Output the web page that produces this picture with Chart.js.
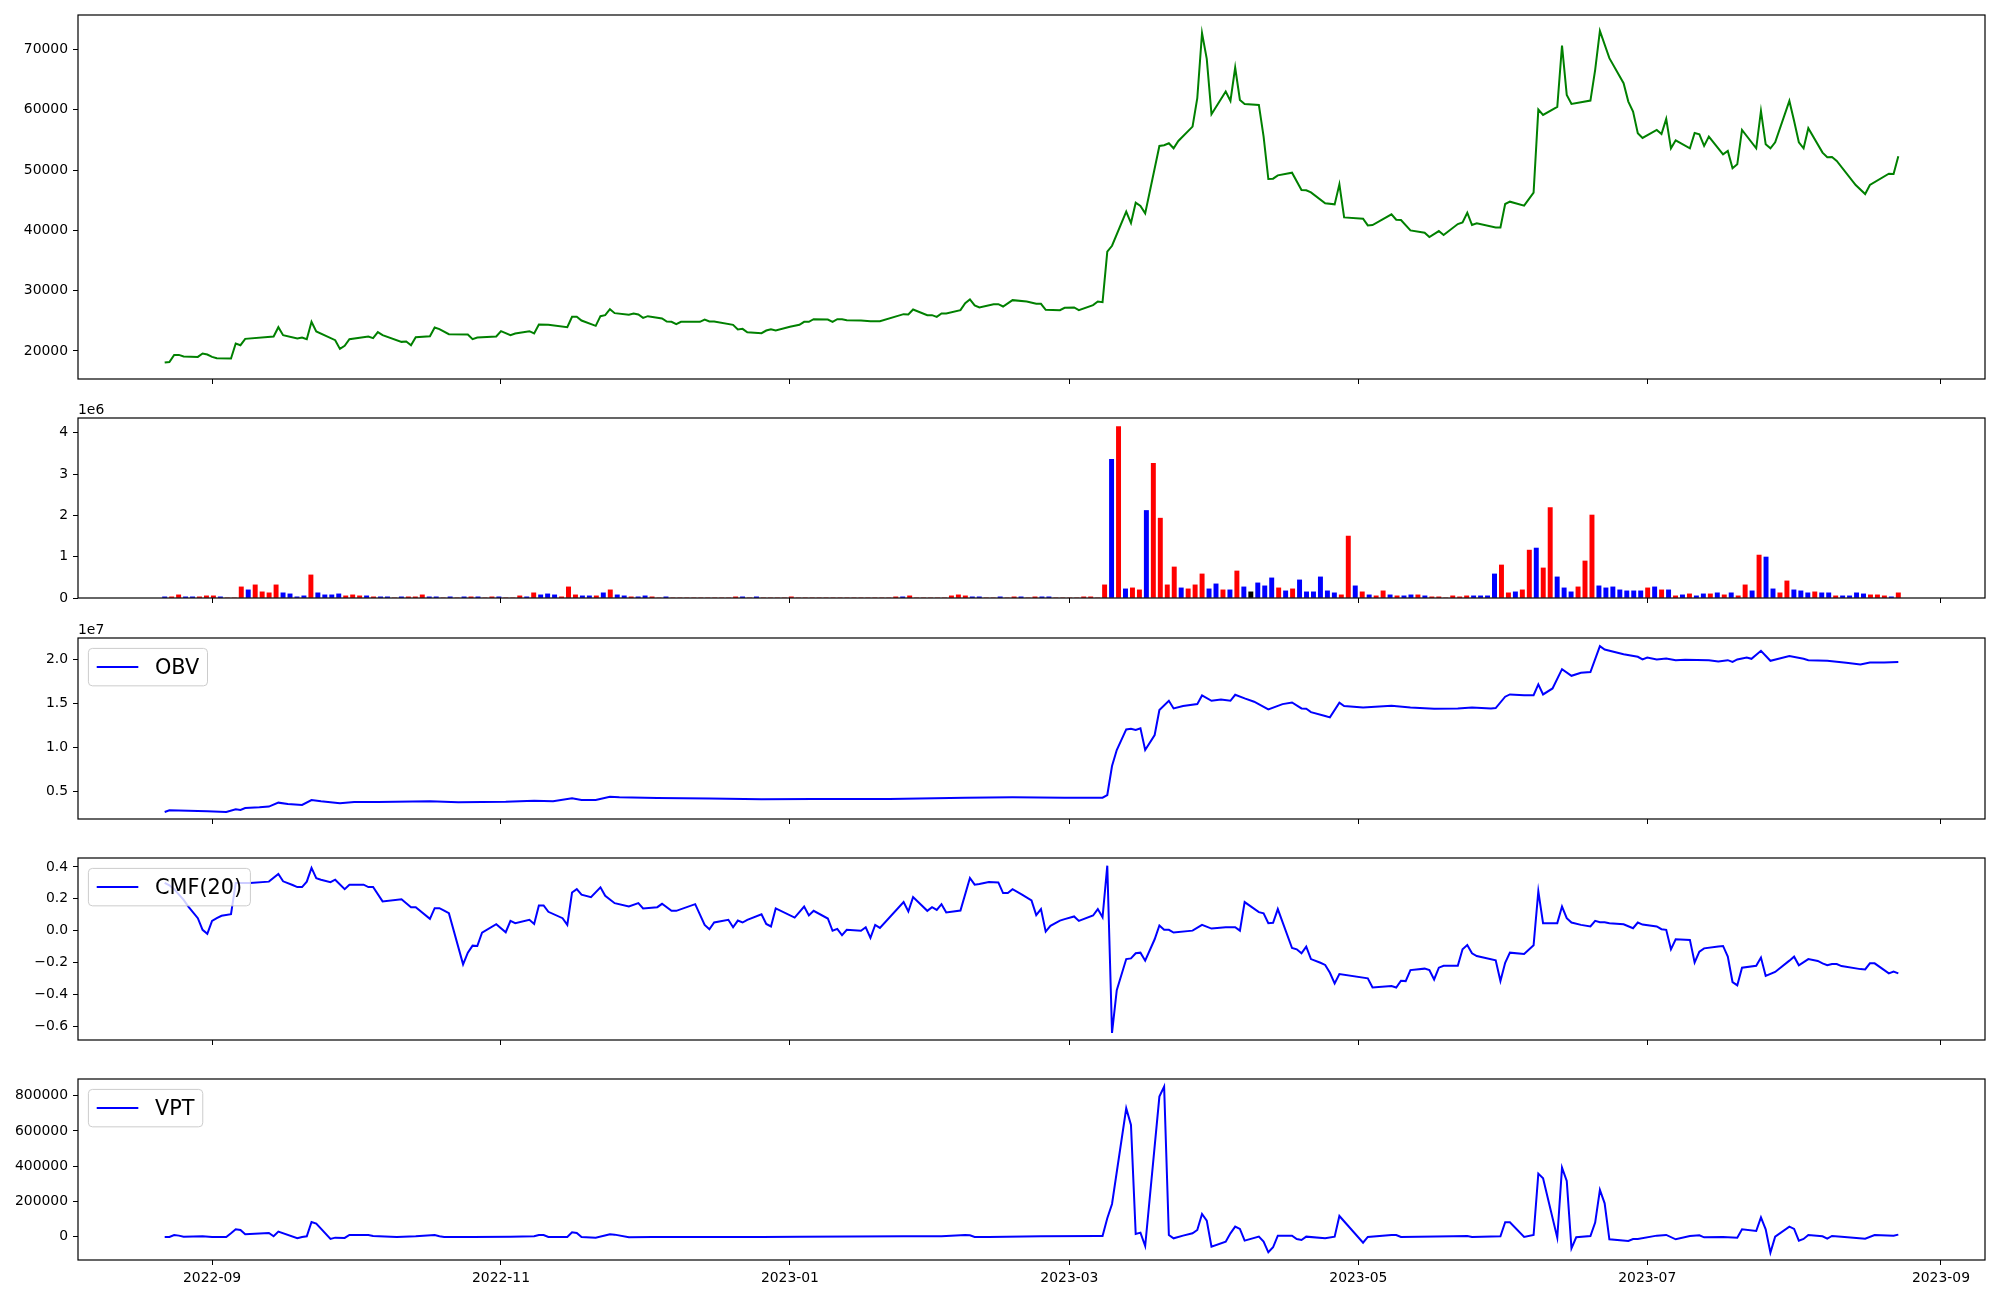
<!DOCTYPE html>
<html><head><meta charset="utf-8">
<script src="https://cdn.jsdelivr.net/npm/chart.js@4.4.1/dist/chart.umd.min.js"></script>
<style>
html,body{margin:0;padding:0;background:#fff;}
#wrap{position:relative;width:2000px;height:1300px;overflow:hidden;background:#fff;}
.panel{position:absolute;left:0;width:2000px;}
canvas{display:block;}
</style></head><body><div id="wrap">
<div class="panel" style="top:0px;height:400px"><canvas id="c1"></canvas></div>
<div class="panel" style="top:380px;height:240px"><canvas id="c2"></canvas></div>
<div class="panel" style="top:600px;height:240px"><canvas id="c3"></canvas></div>
<div class="panel" style="top:820px;height:240px"><canvas id="c4"></canvas></div>
<div class="panel" style="top:1040px;height:260px"><canvas id="c5"></canvas></div>
</div>
<script>
// ---------- DATA (x = days since 2022-09-01) ----------
const xTickLabels = ['2022-09','2022-11','2023-01','2023-03','2023-05','2023-07','2023-09'];

const closePrice = [[-10,18070],[-9,18170],[-8,19340],[-7,19340],[-6,19065],[-3,19010],[-2,19564],[-1,19398],[0,19010],[1,18790],[4,18733],[5,21224],[6,20948],[7,22000],[13,22388],[14,23938],[15,22609],[18,22055],[19,22221],[20,21944],[21,24824],[22,23218],[26,21779],[27,20339],[28,20838],[29,21944],[33,22388],[34,22111],[35,23107],[36,22609],[40,21501],[41,21557],[42,20948],[43,22277],[46,22443],[47,23883],[48,23606],[50,22775],[54,22720],[55,21944],[56,22221],[60,22388],[61,23274],[63,22609],[64,22886],[67,23274],[68,22886],[69,24381],[71,24326],[75,23938],[76,25654],[77,25654],[78,25045],[81,24159],[82,25765],[83,25931],[84,26928],[85,26263],[88,25987],[89,26208],[90,26042],[91,25488],[92,25765],[95,25377],[96,24879],[97,24824],[98,24436],[99,24824],[103,24824],[104,25211],[105,24879],[106,24879],[110,24326],[111,23551],[112,23661],[113,23080],[116,22941],[117,23384],[118,23606],[119,23384],[122,23993],[124,24326],[125,24824],[126,24824],[127,25267],[130,25211],[131,24824],[132,25267],[133,25267],[134,25101],[137,25045],[139,24935],[141,24935],[146,26097],[147,26042],[148,26872],[151,25931],[152,25931],[153,25654],[154,26208],[155,26208],[158,26761],[159,27924],[160,28533],[161,27536],[162,27204],[165,27757],[166,27757],[167,27370],[169,28422],[172,28200],[174,27812],[175,27812],[176,26817],[179,26761],[180,27149],[182,27204],[183,26761],[186,27593],[187,28200],[188,28090],[189,36451],[190,37448],[193,43096],[194,41213],[195,44590],[196,44037],[197,42819],[200,54004],[201,54114],[202,54446],[203,53616],[204,54834],[207,57215],[208,61922],[209,72718],[210,68455],[211,59264],[214,63029],[215,61478],[216,67015],[217,61644],[218,60980],[221,60814],[222,55554],[223,48522],[224,48577],[225,49131],[228,49574],[230,46695],[231,46640],[232,46307],[235,44480],[237,44314],[238,47636],[239,42155],[243,41933],[244,40826],[245,40881],[249,42653],[250,41767],[251,41712],[253,39995],[256,39608],[257,38888],[259,39885],[260,39220],[263,41047],[264,41324],[265,42930],[266,40881],[267,41158],[271,40493],[272,40493],[273,44369],[274,44757],[277,44093],[279,46252],[280,60039],[281,59153],[284,60482],[285,70670],[286,62475],[287,60980],[291,61534],[292,66628],[293,73106],[295,68566],[298,64413],[299,61368],[300,59707],[301,56108],[302,55332],[305,56661],[306,55997],[307,58489],[308,53616],[309,54945],[312,53616],[313,56163],[314,55942],[315,54004],[316,55554],[319,52620],[320,53173],[321,50294],[322,50958],[323,56661],[326,53616],[327,59817],[328,54281],[329,53616],[330,54612],[333,61478],[334,58157],[335,54612],[336,53616],[337,56938],[340,52897],[341,52121],[342,52176],[343,51512],[347,47525],[349,46030],[350,47525],[354,49407],[355,49352],[356,52288]];

// one bar per trading session, sessions evenly spaced from first to last day
const volumeFirstDay = -10, volumeLastDay = 356;
const volume = [
28000,28000,76000,28000,28000,28000,52000,52000,28000,0,
0,269000,197000,318000,149000,125000,318000,125000,100000,28000,
52000,559000,125000,76000,76000,100000,52000,76000,52000,52000,
28000,28000,28000,0,28000,28000,28000,76000,28000,28000,
0,28000,0,28000,28000,28000,0,28000,28000,0,
0,52000,28000,125000,76000,100000,76000,28000,269000,76000,
52000,52000,52000,125000,197000,76000,52000,28000,28000,52000,
28000,0,28000,0,0,0,0,0,0,0,
0,0,28000,28000,0,28000,0,0,0,0,
28000,0,0,0,0,0,0,0,0,0,
0,0,0,0,0,28000,28000,52000,0,0,
0,0,0,52000,76000,52000,28000,28000,0,0,
28000,0,28000,28000,0,28000,28000,28000,0,0,
0,0,28000,28000,0,318000,3360000,4150000,221000,245000,
197000,2120000,3260000,1934000,318000,752000,245000,221000,318000,583000,
221000,342000,197000,197000,655000,269000,149000,366000,294000,487000,
245000,173000,221000,438000,149000,149000,511000,173000,125000,76000,
1500000,294000,149000,76000,52000,173000,76000,52000,52000,76000,
76000,52000,28000,28000,0,52000,28000,52000,52000,52000,
52000,583000,800000,125000,149000,197000,1160000,1210000,728000,2190000,
511000,245000,149000,269000,897000,2010000,294000,245000,269000,197000,
173000,173000,173000,245000,269000,197000,197000,52000,76000,100000,
52000,100000,100000,125000,76000,125000,52000,318000,173000,1040000,
993000,221000,125000,414000,197000,173000,125000,149000,125000,125000,
52000,52000,52000,125000,100000,76000,76000,52000,28000,125000];
// U = close up, D = close down, F = unchanged
const volumeDirection = ('DUUDDUUUDU'+'UUDUUUUDDD'+'DUDDDDUUUD'+'UDDUDUUUDD'+'UDUDUDUUDU'+
 'UUDUDDDUUU'+'DDUDUDDUDD'+'UUDUUUUUUU'+'UUUDUDUUUU'+'UUUUUUUUUU'+
 'UUUUUUDUUU'+'UUUUUUDDUU'+'DUUDUUDDUU'+'UUUUUUDUDU'+'UDUUUUDUUU'+
 'DDUDUDFDDD'+'UDUDDDDDDU'+'UDUDUUDUDD'+'UDUUUUUUDD'+'DDUUDUUDUU'+
 'DDDUUUDDDD'+'DDDUDUDUDU'+'DDUDUDUUDU'+'DDUUDDDUDD'+'UDDDDUUUDU').split('');

const obv = [[-10,2650000],[-9,2840000],[-5,2800000],[-1,2730000],[3,2650000],[5,2950000],[6,2880000],[7,3100000],[10,3180000],[12,3260000],[14,3710000],[16,3560000],[19,3450000],[21,4010000],[23,3860000],[27,3630000],[30,3790000],[35,3790000],[46,3860000],[52,3750000],[62,3820000],[68,3940000],[72,3860000],[76,4200000],[78,4010000],[81,4010000],[84,4390000],[86,4320000],[94,4240000],[105,4170000],[116,4090000],[127,4130000],[143,4130000],[159,4280000],[169,4320000],[180,4280000],[188,4280000],[189,4580000],[190,7880000],[191,9700000],[193,12040000],[194,12120000],[195,11970000],[196,12160000],[197,9700000],[199,11400000],[200,14240000],[202,15300000],[203,14430000],[205,14700000],[208,14920000],[209,15910000],[211,15300000],[213,15450000],[215,15300000],[216,15980000],[218,15570000],[220,15190000],[223,14320000],[226,14920000],[228,15110000],[230,14430000],[231,14390000],[232,14010000],[235,13560000],[236,13410000],[238,15080000],[239,14700000],[243,14540000],[249,14730000],[253,14540000],[258,14390000],[263,14430000],[266,14540000],[270,14430000],[271,14470000],[273,15760000],[274,16020000],[277,15940000],[279,15940000],[280,17160000],[281,16020000],[283,16700000],[285,18900000],[287,18140000],[289,18480000],[291,18560000],[293,21510000],[294,21130000],[298,20600000],[301,20300000],[302,20000000],[303,20220000],[305,20000000],[307,20110000],[309,19920000],[311,19960000],[316,19920000],[318,19770000],[320,19920000],[321,19730000],[322,20000000],[324,20220000],[325,20070000],[327,20980000],[329,19850000],[333,20380000],[336,20070000],[337,19920000],[341,19850000],[345,19620000],[348,19430000],[350,19660000],[353,19660000],[356,19700000]];

const cmf20 = [[-10,0.30],[-9,0.285],[-8,0.261],[-6,0.194],[-5,0.152],[-3,0.079],[-2,0.006],[-1,-0.019],[0,0.062],[1,0.079],[2,0.094],[4,0.104],[5,0.299],[6,0.299],[8,0.299],[12,0.308],[14,0.356],[15,0.310],[17,0.287],[18,0.274],[19,0.274],[20,0.308],[21,0.394],[22,0.329],[23,0.320],[25,0.305],[26,0.320],[28,0.261],[29,0.289],[32,0.289],[33,0.274],[34,0.274],[36,0.184],[40,0.198],[42,0.148],[43,0.148],[46,0.075],[47,0.142],[48,0.142],[49,0.127],[50,0.110],[53,-0.210],[54,-0.137],[55,-0.093],[56,-0.095],[57,-0.011],[60,0.041],[62,-0.009],[63,0.062],[64,0.048],[67,0.069],[68,0.043],[69,0.159],[70,0.159],[71,0.119],[74,0.079],[75,0.037],[76,0.240],[77,0.261],[78,0.226],[80,0.211],[82,0.272],[83,0.219],[85,0.173],[88,0.152],[90,0.173],[91,0.140],[94,0.148],[95,0.169],[97,0.125],[98,0.125],[102,0.167],[104,0.037],[105,0.010],[106,0.052],[109,0.069],[110,0.022],[111,0.064],[112,0.052],[113,0.069],[116,0.104],[117,0.043],[118,0.027],[119,0.140],[123,0.083],[125,0.152],[126,0.096],[127,0.125],[130,0.077],[131,0.0],[132,0.012],[133,-0.028],[134,0.006],[137,0.0],[138,0.022],[139,-0.044],[140,0.037],[141,0.018],[146,0.180],[147,0.121],[148,0.211],[151,0.125],[152,0.148],[153,0.131],[154,0.167],[155,0.115],[158,0.127],[160,0.331],[161,0.289],[162,0.293],[164,0.305],[166,0.303],[167,0.236],[168,0.236],[169,0.261],[171,0.226],[173,0.190],[174,0.098],[175,0.136],[176,-0.005],[177,0.031],[179,0.064],[180,0.073],[182,0.090],[183,0.062],[186,0.096],[187,0.136],[188,0.085],[189,0.408],[190,-0.640],[191,-0.372],[193,-0.177],[194,-0.173],[195,-0.141],[196,-0.137],[197,-0.187],[199,-0.053],[200,0.033],[201,0.006],[202,0.006],[203,-0.011],[207,0.001],[209,0.037],[211,0.014],[214,0.022],[216,0.022],[217,0.001],[218,0.180],[221,0.117],[222,0.110],[223,0.048],[224,0.050],[225,0.136],[228,-0.108],[229,-0.116],[230,-0.141],[231,-0.099],[232,-0.177],[234,-0.200],[235,-0.214],[236,-0.263],[237,-0.330],[238,-0.271],[244,-0.298],[245,-0.355],[249,-0.346],[250,-0.355],[251,-0.313],[252,-0.315],[253,-0.246],[256,-0.237],[257,-0.246],[258,-0.305],[259,-0.231],[260,-0.219],[263,-0.219],[264,-0.116],[265,-0.089],[266,-0.141],[267,-0.158],[271,-0.185],[272,-0.315],[273,-0.200],[274,-0.137],[277,-0.145],[279,-0.091],[280,0.247],[281,0.048],[284,0.048],[285,0.152],[286,0.079],[287,0.052],[289,0.037],[291,0.027],[292,0.062],[293,0.054],[294,0.054],[295,0.048],[298,0.041],[300,0.016],[301,0.052],[302,0.039],[305,0.027],[306,0.010],[307,0.006],[308,-0.116],[309,-0.053],[312,-0.057],[313,-0.198],[314,-0.131],[315,-0.110],[318,-0.099],[319,-0.095],[320,-0.162],[321,-0.321],[322,-0.342],[323,-0.231],[326,-0.219],[327,-0.168],[328,-0.283],[330,-0.258],[333,-0.187],[334,-0.162],[335,-0.216],[337,-0.177],[339,-0.189],[340,-0.204],[341,-0.216],[342,-0.208],[343,-0.208],[344,-0.221],[348,-0.240],[349,-0.242],[350,-0.204],[351,-0.204],[354,-0.267],[355,-0.256],[356,-0.267]];

const vpt = [[-10,-3800],[-9,-3800],[-8,7600],[-7,3800],[-6,-1900],[-2,0],[0,-3800],[3,-3800],[4,17000],[5,39900],[6,36000],[7,11400],[12,19000],[13,0],[14,26600],[18,-11400],[19,-3800],[20,0],[21,81600],[22,72200],[25,-15200],[26,-7600],[28,-9500],[29,7600],[33,7600],[34,1900],[39,-3800],[43,0],[47,7600],[48,0],[49,-3800],[55,-3800],[63,-1900],[68,0],[69,7600],[70,7600],[71,-3800],[75,-3800],[76,22800],[77,19000],[78,-3800],[81,-7600],[84,11400],[85,9500],[88,-5700],[93,-3800],[116,-3800],[124,-1900],[146,0],[154,0],[159,7600],[160,5700],[161,-3800],[164,-3800],[175,0],[187,1900],[188,1900],[189,102500],[190,184200],[193,729200],[194,634300],[195,13300],[196,20900],[197,-55100],[200,795700],[201,852600],[202,7600],[203,-11400],[205,3800],[207,17100],[208,36100],[209,127200],[210,89200],[211,-58900],[214,-30400],[215,17100],[216,55100],[217,41800],[218,-24700],[221,-1900],[222,-30400],[223,-91100],[224,-62700],[225,3800],[228,3800],[229,-15200],[230,-20900],[231,-1900],[235,-11400],[237,-1900],[238,115800],[243,-36100],[244,-3800],[249,7600],[250,7600],[251,-3800],[262,0],[265,1900],[266,-3800],[272,0],[273,79800],[274,79800],[277,-3800],[279,7600],[280,357000],[281,330400],[284,-7600],[285,391200],[286,315200],[287,-68400],[288,-5700],[291,1900],[292,77900],[293,264000],[294,188000],[295,-17100],[299,-26600],[300,-15200],[301,-15200],[305,3800],[307,7600],[309,-17100],[312,1900],[314,5700],[315,-5700],[319,-3800],[322,-7600],[323,39900],[326,30400],[327,108200],[328,39900],[329,-93000],[330,-1900],[333,55100],[334,41800],[335,-24700],[336,-15200],[337,7600],[340,0],[341,-13300],[342,1900],[344,-1900],[349,-13300],[351,7600],[355,3800],[356,9500]];

const priceTicks = [20000,30000,40000,50000,60000,70000];
const priceTickLabels = ['20000','30000','40000','50000','60000','70000'];
const volumeTicks = [0,1e6,2e6,3e6,4e6];
const volumeTickLabels = ['0','1','2','3','4'];
const obvTicks = [0.5e7,1.0e7,1.5e7,2.0e7];
const obvTickLabels = ['0.5','1.0','1.5','2.0'];
const cmfTicks = [-0.6,-0.4,-0.2,0,0.2,0.4];
const cmfTickLabels = ['\u22120.6','\u22120.4','\u22120.2','0.0','0.2','0.4'];
const vptTicks = [0,200000,400000,600000,800000];
const vptTickLabels = ['0','200000','400000','600000','800000'];

// ---------- RENDERING ----------
function dayOf(s){ const p=s.split('-'); return (Date.UTC(+p[0], +p[1]-1, p[2]?+p[2]:1) - Date.UTC(2022,8,1))/86400000; }
const xTickDays = xTickLabels.map(dayOf);
const X_MIN = -28.3, X_MAX = 374.3;
const FONT = "'DejaVu Sans'";
Chart.defaults.font.family = FONT;
Chart.defaults.font.size = 13.9;
Chart.defaults.color = '#000';

const toXY = arr => arr.map(p => ({x:p[0], y:p[1]}));
const dirColor = {U:'#ff0000', D:'#0000ff', F:'#000000'};

function makeChart(id, cfg){
  const el = document.getElementById(id);
  el.width = 2000; el.height = cfg.height;
  const xAxisH = cfg.showX ? 30 : 10;
  const framePlugin = {
    id:'frame'+id,
    afterDraw(chart){
      const a = chart.chartArea, ctx = chart.ctx;
      ctx.save();
      ctx.strokeStyle = '#000'; ctx.lineWidth = 1.2;
      ctx.strokeRect(a.left, a.top, a.right-a.left, a.bottom-a.top);
      if (cfg.offsetText){
        ctx.fillStyle = '#000'; ctx.font = '13.9px ' + FONT;
        ctx.textAlign = 'left'; ctx.textBaseline = 'alphabetic';
        ctx.fillText(cfg.offsetText, a.left, a.top - 4);
      }
      if (cfg.legend){
        const fs = 20.8, bp = 0.4*fs, hl = 2*fs, tp = 0.8*fs, pad = 0.5*fs;
        const label = chart.data.datasets[0].label;
        ctx.font = fs + 'px ' + FONT;
        const tw = ctx.measureText(label).width;
        const x0 = a.left + pad, y0 = a.top + pad;
        const w = bp*2 + hl + tp + tw, h = bp*2 + fs;
        ctx.beginPath();
        if (ctx.roundRect) ctx.roundRect(x0, y0, w, h, 4); else ctx.rect(x0, y0, w, h);
        ctx.fillStyle = 'rgba(255,255,255,0.8)'; ctx.fill();
        ctx.strokeStyle = '#cccccc'; ctx.lineWidth = 1; ctx.stroke();
        const cy = y0 + h/2;
        ctx.beginPath(); ctx.moveTo(x0+bp, cy); ctx.lineTo(x0+bp+hl, cy);
        ctx.strokeStyle = chart.data.datasets[0].borderColor; ctx.lineWidth = 2; ctx.stroke();
        ctx.fillStyle = '#000'; ctx.textAlign = 'left'; ctx.textBaseline = 'middle';
        ctx.fillText(label, x0+bp+hl+tp, cy + 1);
      }
      ctx.restore();
    }
  };
  return new Chart(el, {
    type: cfg.type,
    data: {datasets: cfg.datasets},
    options: {
      responsive:false, animation:false, events:[],
      layout:{padding:{left:0, right:15, top:cfg.areaTop, bottom:cfg.height - cfg.areaBottom - xAxisH}},
      plugins:{legend:{display:false}, tooltip:{enabled:false}},
      scales:{
        x:{type:'linear', min:X_MIN, max:X_MAX, offset:false,
           afterBuildTicks:s=>{ s.ticks = xTickDays.map(v=>({value:v})); },
           ticks:{display:cfg.showX, autoSkip:false, maxRotation:0, minRotation:0, padding:5, callback:(v,i)=>xTickLabels[i]},
           grid:{offset:false, drawOnChartArea:false, drawTicks:true, tickLength:5, color:'#000', lineWidth:1},
           border:{display:false},
           afterFit:s=>{ s.height = xAxisH; }},
        y:{type:'linear', min:cfg.yMin, max:cfg.yMax,
           afterBuildTicks:s=>{ s.ticks = cfg.yTicks.map(v=>({value:v})); },
           ticks:{autoSkip:false, padding:5, callback:(v,i)=>cfg.yLabels[i]},
           grid:{drawOnChartArea:false, drawTicks:true, tickLength:5, color:'#000', lineWidth:1},
           border:{display:false},
           afterFit:s=>{ s.width = 78; }}
      }
    },
    plugins:[framePlugin]
  });
}

const lineDS = (label, arr, color) => ({type:'line', label, data:toXY(arr), borderColor:color, backgroundColor:color,
  borderWidth:2, pointRadius:0, tension:0, fill:false});

makeChart('c1', {type:'line', height:400, areaTop:15, areaBottom:379, showX:false,
  yMin:15340, yMax:75730, yTicks:priceTicks, yLabels:priceTickLabels,
  datasets:[lineDS('Close', closePrice, '#008000')]});

const volStep = (volumeLastDay - volumeFirstDay)/(volume.length - 1);
makeChart('c2', {type:'bar', height:240, areaTop:38, areaBottom:218, showX:false,
  yMin:0, yMax:4.36e6, yTicks:volumeTicks, yLabels:volumeTickLabels, offsetText:'1e6',
  datasets:[{type:'bar', label:'Volume', data:volume.map((v,i)=>({x:volumeFirstDay + i*volStep, y:v})),
    backgroundColor:volumeDirection.map(c=>dirColor[c]), borderWidth:0, barThickness:4.3, grouped:false}]});

makeChart('c3', {type:'line', height:240, areaTop:38, areaBottom:219, showX:false,
  yMin:0.185e7, yMax:2.244e7, yTicks:obvTicks, yLabels:obvTickLabels, offsetText:'1e7', legend:true,
  datasets:[lineDS('OBV', obv, '#0000ff')]});

makeChart('c4', {type:'line', height:240, areaTop:38, areaBottom:220, showX:false,
  yMin:-0.684, yMax:0.456, yTicks:cmfTicks, yLabels:cmfTickLabels, legend:true,
  datasets:[lineDS('CMF(20)', cmf20, '#0000ff')]});

makeChart('c5', {type:'line', height:260, areaTop:39, areaBottom:220, showX:true,
  yMin:-135000, yMax:896000, yTicks:vptTicks, yLabels:vptTickLabels, legend:true,
  datasets:[lineDS('VPT', vpt, '#0000ff')]});
</script>
</body></html>
